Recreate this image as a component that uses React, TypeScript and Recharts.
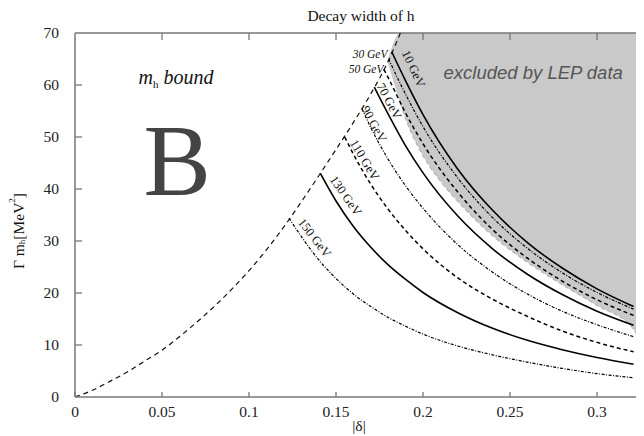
import React from "react";
import {
  ComposedChart,
  Line,
  Area,
  XAxis,
  YAxis,
  ReferenceDot,
  ReferenceLine,
} from "recharts";

const deltaTicks = [0, 0.05, 0.1, 0.15, 0.2, 0.25, 0.3];
const widthTicks = [0, 10, 20, 30, 40, 50, 60, 70];

// m_h bound (dashed envelope)
const boundDelta = [0, 0.01, 0.02, 0.03, 0.04, 0.05, 0.06, 0.07, 0.08, 0.09, 0.1, 0.11, 0.12, 0.13, 0.14, 0.15, 0.16, 0.17, 0.18, 0.187];
const boundWidth = [0, 1.3, 3.0, 4.8, 6.9, 9.0, 11.6, 14.4, 17.4, 20.7, 24.3, 28.3, 32.7, 37.5, 42.5, 47.6, 52.8, 58.3, 64.6, 70];

// region excluded by LEP data
const lepDelta = [0.1795, 0.187, 0.19, 0.2, 0.21, 0.22, 0.24, 0.26, 0.28, 0.3, 0.321, 0.327];
const lepLow = [64.5, 56.5, 53.5, 46.4, 41.5, 37.6, 31.0, 25.9, 21.6, 17.6, 13.0, 9.5];
const lepHigh = [64.5, 70, 70, 70, 70, 70, 70, 70, 70, 70, 70, 70];

// Higgs mass curves
const delta10 = [0.182, 0.19, 0.2, 0.22, 0.24, 0.26, 0.28, 0.3, 0.321];
const width10 = [66.4, 60.8, 54.3, 43.8, 35.9, 29.7, 24.8, 20.8, 17.4];
const delta30 = [0.1802, 0.19, 0.2, 0.22, 0.24, 0.26, 0.28, 0.3, 0.321];
const width30 = [65.0, 58.2, 52.0, 42.1, 34.5, 28.6, 23.9, 20.1, 16.9];
const delta50 = [0.1775, 0.18, 0.19, 0.2, 0.22, 0.24, 0.26, 0.28, 0.3, 0.321];
const width50 = [63.0, 61.4, 54.6, 48.7, 39.4, 32.2, 26.7, 22.3, 18.7, 15.7];
const delta70 = [0.172, 0.18, 0.19, 0.2, 0.22, 0.24, 0.26, 0.28, 0.3, 0.321];
const width70 = [59.6, 54.4, 48.3, 43.1, 34.8, 28.5, 23.6, 19.7, 16.5, 13.8];
const delta90 = [0.165, 0.17, 0.18, 0.19, 0.2, 0.22, 0.24, 0.26, 0.28, 0.3, 0.321];
const width90 = [55.4, 51.8, 45.7, 40.6, 36.3, 29.3, 24.0, 19.8, 16.5, 13.9, 11.6];
const delta110 = [0.155, 0.16, 0.17, 0.18, 0.19, 0.2, 0.22, 0.24, 0.26, 0.28, 0.3, 0.321];
const width110 = [50.0, 46.7, 40.9, 36.1, 32.0, 28.5, 22.9, 18.8, 15.5, 12.7, 10.5, 8.7];
const delta130 = [0.141, 0.15, 0.16, 0.17, 0.18, 0.19, 0.2, 0.22, 0.24, 0.26, 0.28, 0.3, 0.321];
const width130 = [43.0, 37.7, 32.8, 28.8, 25.4, 22.6, 20.1, 16.2, 13.2, 10.9, 9.1, 7.6, 6.3];
const delta150 = [0.123, 0.13, 0.14, 0.15, 0.16, 0.17, 0.18, 0.19, 0.2, 0.22, 0.24, 0.26, 0.28, 0.3, 0.321];
const width150 = [34.4, 30.9, 26.4, 22.8, 19.8, 17.4, 15.3, 13.6, 12.1, 9.8, 8.1, 6.7, 5.5, 4.5, 3.7];

const pts = (xs: number[], ys: number[]) => xs.map((x, i) => ({ x, y: ys[i] }));

const lepData = lepDelta.map((x, i) => ({ x, range: [lepLow[i], lepHigh[i]] }));

const SERIF = "'Liberation Serif', 'Times New Roman', serif";
const SANS = "'Liberation Sans', Arial, sans-serif";
const AXIS = "#777";

const W = 636;
const H = 428;
const TOP = 25;
const LEFT = 67;
const BOTTOM_H = 39;

const DASH: Record<string, string | undefined> = {
  solid: undefined,
  dashed: "4 3",
  dashdot: "3 1.5 1 1.5",
};

const curves = [
  { id: "m10", data: pts(delta10, width10), style: "solid" },
  { id: "m30", data: pts(delta30, width30), style: "dashdot" },
  { id: "m50", data: pts(delta50, width50), style: "dashed" },
  { id: "m70", data: pts(delta70, width70), style: "solid" },
  { id: "m90", data: pts(delta90, width90), style: "dashdot" },
  { id: "m110", data: pts(delta110, width110), style: "dashed" },
  { id: "m130", data: pts(delta130, width130), style: "solid" },
  { id: "m150", data: pts(delta150, width150), style: "dashdot" },
];

type Note = {
  text: string;
  x: number;
  y: number;
  angle: number;
  anchor: "start" | "middle" | "end";
  italic?: boolean;
};

const curveNotes: Note[] = [
  { text: "10 GeV", x: 0.1945, y: 63.1, angle: 65, anchor: "middle" },
  { text: "70 GeV", x: 0.1805, y: 56.9, angle: 62, anchor: "middle" },
  { text: "90 GeV", x: 0.1718, y: 52.5, angle: 61, anchor: "middle" },
  { text: "110 GeV", x: 0.1664, y: 45.6, angle: 59, anchor: "middle" },
  { text: "130 GeV", x: 0.1555, y: 38.7, angle: 55, anchor: "middle" },
  { text: "150 GeV", x: 0.1376, y: 30.6, angle: 52, anchor: "middle" },
  { text: "30 GeV", x: 0.1796, y: 65.1, angle: 0, anchor: "end", italic: true },
  { text: "50 GeV", x: 0.1773, y: 62.4, angle: 0, anchor: "end", italic: true },
];

function NoteLabel(props: any) {
  const { viewBox, note } = props;
  const cx = viewBox.x + viewBox.width / 2;
  const cy = viewBox.y + viewBox.height / 2;
  const rotated = note.angle !== 0;
  return (
    <text
      x={cx}
      y={cy}
      transform={rotated ? `rotate(${note.angle} ${cx} ${cy})` : undefined}
      textAnchor={note.anchor}
      dominantBaseline={rotated ? "central" : "alphabetic"}
      fontFamily={SERIF}
      fontStyle={note.italic ? "italic" : "normal"}
      fontSize={rotated ? 12.5 : 11.5}
      fill="#111"
    >
      {note.text}
    </text>
  );
}

function BoundLabel(props: any) {
  const { viewBox } = props;
  const x = viewBox.x + viewBox.width / 2;
  const y = viewBox.y + viewBox.height / 2;
  return (
    <text x={x} y={y} fontFamily={SERIF} fontStyle="italic" fontSize={20} fill="#111">
      m
      <tspan fontSize={11} fontStyle="normal" dy={4}>h</tspan>
      <tspan dy={-4}> bound</tspan>
    </text>
  );
}

function BigB(props: any) {
  const { viewBox } = props;
  const x = viewBox.x + viewBox.width / 2;
  const y = viewBox.y + viewBox.height / 2;
  return (
    <text x={x} y={y} fontFamily={SERIF} fontSize={101} fill="#444">
      B
    </text>
  );
}

function LepLabel(props: any) {
  const { viewBox } = props;
  const x = viewBox.x + viewBox.width / 2;
  const y = viewBox.y + viewBox.height / 2;
  return (
    <text x={x} y={y} fontFamily={SANS} fontStyle="italic" fontSize={18.5} fill="#555">
      excluded by LEP data
    </text>
  );
}

function DeltaTick(props: any) {
  const { x, y, payload } = props;
  const axisY = y - 9;
  return (
    <g>
      <line x1={x} x2={x} y1={axisY} y2={axisY - 5} stroke={AXIS} strokeWidth={1.3} />
      {payload.value !== 0 && (
        <line x1={x} x2={x} y1={TOP} y2={TOP + 7} stroke={AXIS} strokeWidth={1.3} />
      )}
      <text x={x} y={y} dy="0.71em" textAnchor="middle" fontFamily={SERIF} fontSize={15.5} fill="#222">
        {String(payload.value)}
      </text>
    </g>
  );
}

function WidthTick(props: any) {
  const { x, y, payload } = props;
  const axisX = x + 16;
  return (
    <g>
      {payload.value !== 0 && payload.value !== 70 && (
        <>
          <line x1={axisX} x2={axisX + 7} y1={y} y2={y} stroke={AXIS} strokeWidth={1.3} />
          <line x1={W - 5} x2={W} y1={y} y2={y} stroke={AXIS} strokeWidth={1.3} />
        </>
      )}
      <text x={x} y={y} dy="0.35em" textAnchor="end" fontFamily={SERIF} fontSize={15.5} fill="#222">
        {payload.value}
      </text>
    </g>
  );
}

export default function App() {
  return (
    <div style={{ position: "relative", width: W, height: H }}>
      <ComposedChart
        width={W}
        height={H}
        data={lepData}
        margin={{ top: TOP, right: 0, bottom: 0, left: 0 }}
      >
        <XAxis
          dataKey="x"
          type="number"
          domain={[0, 0.327]}
          allowDataOverflow
          ticks={deltaTicks}
          height={BOTTOM_H}
          tickSize={0}
          tickMargin={9}
          tickLine={false}
          tick={<DeltaTick />}
          axisLine={{ stroke: AXIS, strokeWidth: 1.5 }}
          interval={0}
        />
        <YAxis
          type="number"
          domain={[0, 70]}
          allowDataOverflow
          ticks={widthTicks}
          width={LEFT}
          tickSize={0}
          tickMargin={16}
          tickLine={false}
          tick={<WidthTick />}
          axisLine={{ stroke: AXIS, strokeWidth: 1.5 }}
          interval={0}
        />
        <Area
          type="monotone"
          dataKey="range"
          stroke="none"
          fill="#c9c9c9"
          fillOpacity={1}
          isAnimationActive={false}
          activeDot={false}
        />
        <Line
          data={pts(lepDelta.slice(1), lepLow.slice(1))}
          dataKey="y"
          type="monotone"
          stroke="#b3b3b3"
          strokeWidth={1.1}
          strokeDasharray="4 3"
          dot={false}
          activeDot={false}
          isAnimationActive={false}
        />
        <ReferenceLine y={70} stroke={AXIS} strokeWidth={1.5} ifOverflow="visible" />
        <Line
          data={pts(boundDelta, boundWidth)}
          dataKey="y"
          type="monotone"
          stroke="#111"
          strokeWidth={1.2}
          strokeDasharray="5 4"
          dot={false}
          activeDot={false}
          isAnimationActive={false}
        />
        {curves.map((c) => (
          <Line
            key={c.id}
            data={c.data}
            dataKey="y"
            type="monotone"
            stroke="#000"
            strokeWidth={c.style === "solid" ? 1.6 : c.style === "dashed" ? 1.5 : 1.2}
            strokeDasharray={DASH[c.style]}
            dot={false}
            activeDot={false}
            isAnimationActive={false}
          />
        ))}
        {curveNotes.map((n) => (
          <ReferenceDot
            key={n.text}
            x={n.x}
            y={n.y}
            r={1}
            fill="none"
            stroke="none"
            ifOverflow="visible"
            label={(p: any) => <NoteLabel {...p} note={n} />}
          />
        ))}
        <ReferenceDot x={0.0365} y={60.2} r={1} fill="none" stroke="none" label={(p: any) => <BoundLabel {...p} />} />
        <ReferenceDot x={0.0394} y={38.9} r={1} fill="none" stroke="none" label={(p: any) => <BigB {...p} />} />
        <ReferenceDot x={0.2118} y={61.1} r={1} fill="none" stroke="none" label={(p: any) => <LepLabel {...p} />} />
      </ComposedChart>
      <svg
        width={W}
        height={H}
        style={{ position: "absolute", left: 0, top: 0, pointerEvents: "none" }}
      >
        <text x={353} y={13} textAnchor="middle" fontFamily={SERIF} fontSize={15.5} fill="#111">
          Decay width of h
        </text>
        <text
          x={10}
          y={223}
          transform="rotate(-90 10 223)"
          textAnchor="middle"
          dominantBaseline="central"
          fontFamily={SERIF}
          fontSize={15.5}
          fill="#111"
        >
          Γ m
          <tspan fontSize={9} dy={4}>h</tspan>
          <tspan dy={-4}>[MeV</tspan>
          <tspan fontSize={9} dy={-6}>2</tspan>
          <tspan dy={6}>]</tspan>
        </text>
        <text x={351} y={423} textAnchor="middle" fontFamily={SERIF} fontSize={15.5} fill="#111">
          |δ|
        </text>
      </svg>
    </div>
  );
}
